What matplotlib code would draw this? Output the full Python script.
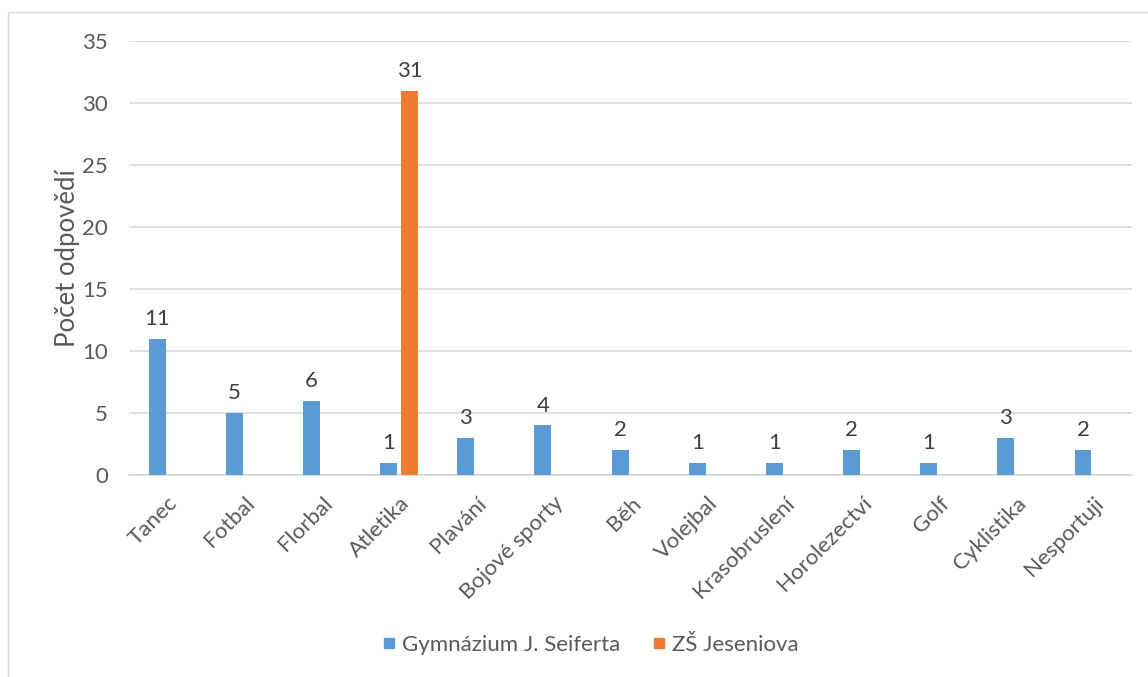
import matplotlib.pyplot as plt
import matplotlib.patches as mpatches
from matplotlib.lines import Line2D
import numpy as np

plt.rcParams['font.family'] = ['Lato', 'DejaVu Sans']

categories = ['Tanec', 'Fotbal', 'Florbal', 'Atletika', 'Plavání', 'Bojové sporty',
              'Běh', 'Volejbal', 'Krasobruslení', 'Horolezectví', 'Golf',
              'Cyklistika', 'Nesportuji']
gymnazium = [11, 5, 6, 1, 3, 4, 2, 1, 1, 2, 1, 3, 2]
zs_jeseniova = [0, 0, 0, 31, 0, 0, 0, 0, 0, 0, 0, 0, 0]
series_names = ['Gymnázium J. Seiferta', 'ZŠ Jeseniova']
yticks = [0, 5, 10, 15, 20, 25, 30, 35]

blue = '#5b9bd5'
orange = '#ed7d31'
tick_col = '#595959'
lab_col = '#404040'

fig = plt.figure(figsize=(11.48, 6.77), dpi=100)
# chart border
fig.patches.append(mpatches.Rectangle((8 / 1148, -0.01), 1.0, 1 - 12 / 677 + 0.01,
                                      transform=fig.transFigure, fill=False,
                                      edgecolor='#d9d9d9', linewidth=1))
ax = fig.add_axes([129 / 1148, 1 - 475 / 677, (1132 - 129) / 1148, (475 - 41) / 677])

x = np.arange(len(categories))
w = 0.22
b1 = ax.bar(x - 0.135, gymnazium, w, color=blue, label=series_names[0], zorder=3)
b2 = ax.bar(x + 0.135, zs_jeseniova, w, color=orange, label=series_names[1], zorder=3)

for bars, vals in ((b1, gymnazium), (b2, zs_jeseniova)):
    for r, v in zip(bars, vals):
        if v > 0:
            ax.annotate(str(v), (r.get_x() + r.get_width() / 2, v), xytext=(0, 7),
                        textcoords='offset points', ha='center', va='bottom',
                        fontsize=16, color=lab_col)

ax.set_xlim(-0.5, len(categories) - 0.5)
ax.set_ylim(0, 35)
ax.set_yticks(yticks)
ax.yaxis.grid(True, color='#d9d9d9', linewidth=1.2, zorder=0)
ax.set_axisbelow(True)
for s in ['top', 'right', 'left']:
    ax.spines[s].set_visible(False)
ax.spines['bottom'].set_color('#d9d9d9')
ax.spines['bottom'].set_linewidth(1.2)
ax.tick_params(axis='both', length=0, labelsize=16, labelcolor=tick_col)
ax.tick_params(axis='y', pad=15)
ax.set_xticks(x)
ax.set_xticklabels(categories, rotation=45, ha='right', rotation_mode='anchor')
ax.tick_params(axis='x', pad=13)
ax.set_ylabel('Počet odpovědí', fontsize=18.5, color=tick_col, labelpad=2)

# square legend keys like in the original
handles = [Line2D([], [], linestyle='none', marker='s', markersize=7.5,
                  markerfacecolor=c, markeredgecolor=c) for c in (blue, orange)]
leg = fig.legend(handles=handles, labels=series_names, loc='center',
                 bbox_to_anchor=(591 / 1148, 1 - 645 / 677), ncol=2, frameon=False,
                 fontsize=16, handlelength=0.5, handletextpad=0.35, columnspacing=1.5)
for t in leg.get_texts():
    t.set_color(tick_col)

fig.savefig('out.png', dpi=100)
